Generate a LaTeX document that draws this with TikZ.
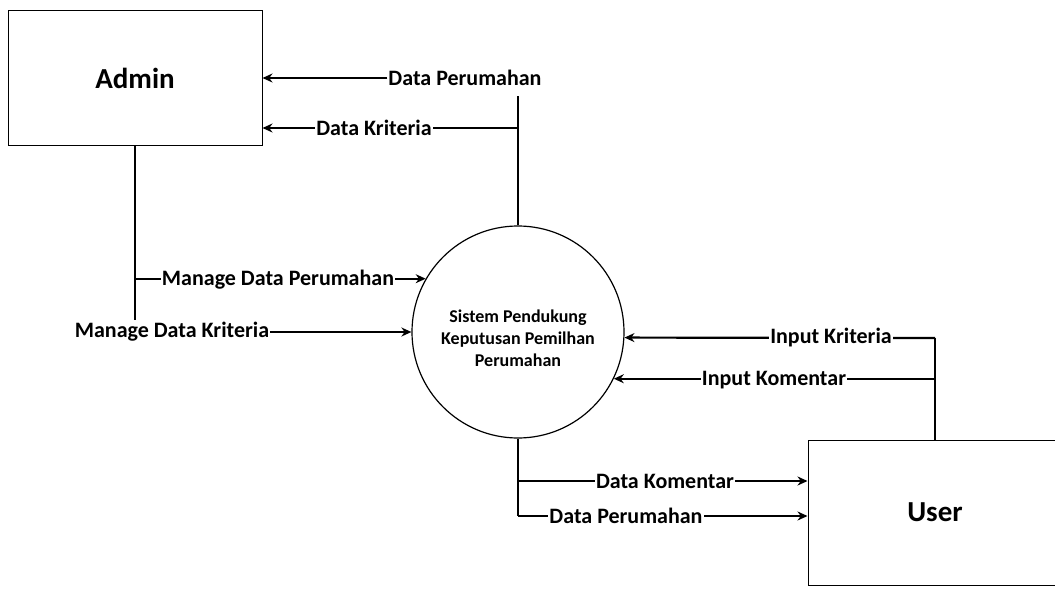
\documentclass[tikz,border=0pt]{standalone}
\usepackage{fontspec}
\setmainfont{Carlito}
\usetikzlibrary{arrows.meta,calc}
\begin{document}
\begin{tikzpicture}[x=1pt,y=-1pt,
  box/.style={draw,line width=1pt,inner sep=0pt,font=\fontsize{29}{32}\selectfont\bfseries},
  flow/.style={line width=2.2pt},
  arr/.style={line width=2.2pt,-{Stealth[length=10pt,width=9pt]}},
  lbl/.style={fill=white,inner sep=1pt,font=\fontsize{22}{24}\selectfont\bfseries},
]
\clip (0,0) rectangle (1055,591);
\useasboundingbox (0,0) rectangle (1055,591);
% entities
\node[box,minimum width=254pt,minimum height=135pt] (admin) at (135,78.5) {Admin};
\node[box,minimum width=254pt,minimum height=145pt] (user) at (935,512.5) {User};
\node[draw,circle,line width=1.2pt,minimum size=212pt,inner sep=0pt] (sys) at (518,332) {};
\node[align=center,font=\fontsize{18}{22}\selectfont\bfseries] (systext) at (518,338) {Sistem Pendukung\\Keputusan Pemilhan\\Perumahan};
% top: Data Perumahan / Data Kriteria
\coordinate (dpTop) at (518,96);
\node[lbl] (l1) at (465,78) {Data Perumahan};
\draw[flow] (sys.north) -- (dpTop);
\draw[arr] (l1.west) -- (l1.west -| admin.east);
\coordinate (dk) at (518,128);
\draw[arr] (dk) -- (dk -| admin.east);
\node[lbl] (l2) at (374,128) {Data Kriteria};
% admin outputs
\coordinate (aBot) at (135,320);
\draw[flow] (admin.south) -- (aBot);
\draw[arr] (sys.150.6 -| admin.south) -- (sys.150.6);
\node[lbl] (l3) at (278,280) {Manage Data Perumahan};
\node[lbl] (l4) at (172,332) {Manage Data Kriteria};
\draw[arr] (l4.east) -- (sys.west);
% user inputs
\coordinate (uJ) at (935,338);
\draw[flow] (user.north) -- (uJ);
\draw[arr] (uJ) -- (sys.-3.2);
\node[lbl] (l5) at (831,338) {Input Kriteria};
\draw[arr] (sys.-26.9 -| uJ) -- (sys.-26.9);
\node[lbl] (l6) at (774,380) {Input Komentar};
% outputs to user
\coordinate (sBot) at (518,516);
\draw[flow] (sys.south) -- (sBot);
\coordinate (dkm) at (518,481);
\draw[arr] (dkm) -- (dkm -| user.west);
\node[lbl] (l7) at (665,481) {Data Komentar};
\draw[arr] (sBot) -- (sBot -| user.west);
\node[lbl] (l8) at (626,516) {Data Perumahan};
\end{tikzpicture}
\end{document}
